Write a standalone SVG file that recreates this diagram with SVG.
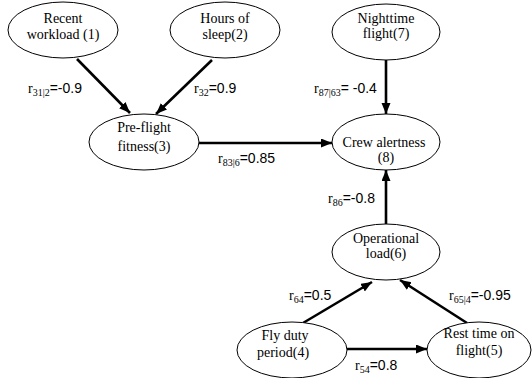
<svg xmlns="http://www.w3.org/2000/svg" width="532" height="378" viewBox="0 0 532 378">
<style>
.ell{fill:#fff;stroke:#000;stroke-width:1}
.t{font-family:"Liberation Serif","Times New Roman",serif;font-size:14px;fill:#000;text-anchor:middle}
.edge{stroke:#000;stroke-width:2.6;fill:none;marker-end:url(#arr)}
.lbl{font-family:"Liberation Serif","Times New Roman",serif;font-size:14px;fill:#000}
.sub{font-family:"Liberation Serif","Times New Roman",serif;font-size:10px}
.num{font-family:"Liberation Sans",Arial,sans-serif;font-size:14px}
</style>
<defs>
<marker id="arr" markerUnits="userSpaceOnUse" markerWidth="12" markerHeight="10" refX="11" refY="4.5" orient="auto">
<path d="M0,0 L11,4.5 L0,9 z" fill="#000"/>
</marker>
</defs>
<rect width="532" height="378" fill="#fff"/>
<g id="connectors">
<line class="edge" x1="77" y1="59" x2="130" y2="113"/>
<line class="edge" x1="212" y1="60" x2="156" y2="114"/>
<line class="edge" x1="386" y1="60" x2="386" y2="114"/>
<line class="edge" x1="199" y1="143" x2="332" y2="143"/>
<line class="edge" x1="386" y1="224" x2="386" y2="170"/>
<line class="edge" x1="303" y1="323" x2="372" y2="282"/>
<line class="edge" x1="467" y1="323" x2="400" y2="280"/>
<line class="edge" x1="347" y1="349" x2="427" y2="349"/>
<text class="lbl" x="28" y="93">r<tspan class="sub" dy="3">31|2</tspan><tspan class="num" dy="-3">=-0.9</tspan></text>
<text class="lbl" x="194" y="93">r<tspan class="sub" dy="3">32</tspan><tspan class="num" dy="-3">=0.9</tspan></text>
<text class="lbl" x="218" y="163">r<tspan class="sub" dy="3">83|6</tspan><tspan class="num" dy="-3">=0.85</tspan></text>
<text class="lbl" x="314" y="93">r<tspan class="sub" dy="3">87|63</tspan><tspan class="num" dy="-3">= -0.4</tspan></text>
<text class="lbl" x="328" y="203">r<tspan class="sub" dy="3">86</tspan><tspan class="num" dy="-3">=-0.8</tspan></text>
<text class="lbl" x="289" y="300">r<tspan class="sub" dy="3">64</tspan><tspan class="num" dy="-3">=0.5</tspan></text>
<text class="lbl" x="449" y="300">r<tspan class="sub" dy="3">65|4</tspan><tspan class="num" dy="-3">=-0.95</tspan></text>
<text class="lbl" x="355" y="370">r<tspan class="sub" dy="3">54</tspan><tspan class="num" dy="-3">=0.8</tspan></text>
</g>
<g id="n1">
<ellipse class="ell" cx="63" cy="30" rx="55" ry="28"/>
<text class="t" x="63" y="23">Recent</text>
<text class="t" x="63" y="39">workload (1)</text>
</g>
<g id="n2">
<ellipse class="ell" cx="225" cy="30" rx="55" ry="28"/>
<text class="t" x="225" y="23">Hours of</text>
<text class="t" x="225" y="39">sleep(2)</text>
</g>
<g id="n3">
<ellipse class="ell" cx="144" cy="142" rx="55" ry="28"/>
<text class="t" x="144" y="132">Pre-flight</text>
<text class="t" x="144" y="151">fitness(3)</text>
</g>
<g id="n7">
<ellipse class="ell" cx="386" cy="32" rx="54" ry="28"/>
<text class="t" x="386" y="23">Nighttime</text>
<text class="t" x="386" y="38">flight(7)</text>
</g>
<g id="n8">
<ellipse class="ell" cx="386" cy="142" rx="54" ry="28"/>
<text class="t" x="384" y="147">Crew alertness</text>
<text class="t" x="386" y="162">(8)</text>
</g>
<g id="n6">
<ellipse class="ell" cx="386" cy="252" rx="54" ry="28"/>
<text class="t" x="386" y="243">Operational</text>
<text class="t" x="386" y="258">load(6)</text>
</g>
<g id="n4">
<ellipse class="ell" cx="292" cy="350" rx="55" ry="28"/>
<text class="t" x="285" y="340">Fly duty</text>
<text class="t" x="283" y="357">period(4)</text>
</g>
<g id="n5">
<ellipse class="ell" cx="479" cy="350" rx="52" ry="28"/>
<text class="t" x="479" y="338">Rest time on</text>
<text class="t" x="479" y="355">flight(5)</text>
</g>
</svg>
